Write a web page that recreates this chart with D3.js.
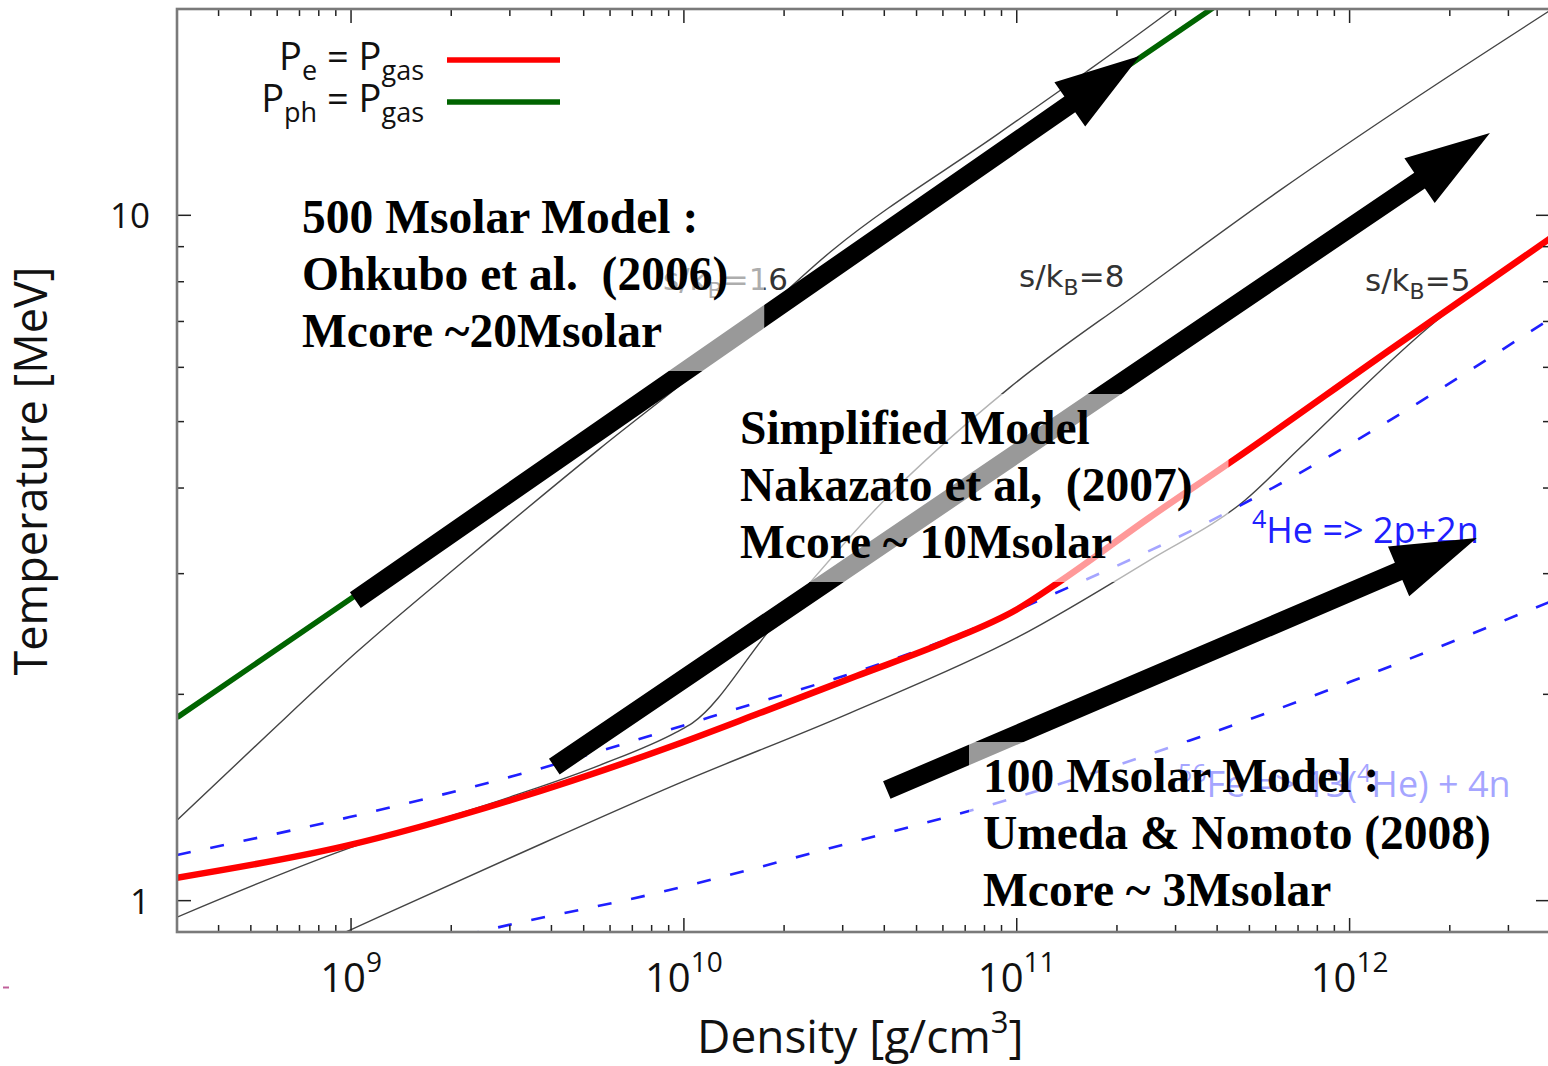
<!DOCTYPE html>
<html>
<head>
<meta charset="utf-8">
<script src="https://cdn.jsdelivr.net/npm/d3@7"></script>
<style>
  html, body { margin: 0; padding: 0; background: #ffffff; }
  svg { display: block; }
</style>
</head>
<body>
<svg id="chart" width="1548" height="1066"></svg>
<script>
// ---- axis domains and tick labels ----
const rhoDomain = [3e8, 4e12];          // g/cm^3
const tempDomain = [0.9, 20];           // MeV
const rhoMajorTicks = [1e9, 1e10, 1e11, 1e12];
const rhoTickExponents = ["9", "10", "11", "12"];
const tempMajorTicks = [1, 10];
const tempTickLabels = ["1", "10"];
const tempMinorTicks = [2, 3, 4, 5, 6, 7, 8, 9, 20];

// ---- P_ph = P_gas (radiation pressure equals gas pressure) ----
const photonRho = [3e8, 1e9, 3e9, 1e10, 3e10, 1e11, 4.2e11];
const photonT   = [1.85, 2.76, 3.98, 5.94, 8.57, 12.8, 20.6];

// ---- P_e = P_gas (electron pressure equals gas pressure) ----
const electronRho = [3e8, 9.5e8, 3.0e9, 9.5e9, 1.69e10, 3.3e10, 6.1e10, 1.0e11, 1.33e11, 2.5e11, 4.5e11, 1.32e12, 4e12];
const electronT   = [1.08, 1.20, 1.40, 1.69, 1.878, 2.127, 2.384, 2.66, 2.91, 3.62, 4.40, 6.36, 9.25];

// ---- nuclear dissociation lines ----
const heliumRho = [3e8, 9.9e8, 3.15e9, 1.2e10, 6.1e10, 1.42e11, 3.36e11, 7.1e11, 4e12];
const heliumT   = [1.166, 1.324, 1.525, 1.853, 2.40, 2.86, 3.47, 4.21, 7.06];
const ironRho = [2.2e9, 2.56e9, 8.3e9, 3.15e10, 1.0e11, 3.55e11, 1.0e12, 4e12];
const ironT   = [0.89, 0.906, 1.026, 1.214, 1.416, 1.733, 2.084, 2.73];

// ---- isentropes ----
const s16Rho = [3e8, 5.6e8, 1.04e9, 2.2e9, 5.6e9, 1.2e10, 2.8e10, 8.9e10, 1.62e11, 2.9e11, 3.4e11];
const s16T   = [1.31, 1.745, 2.305, 3.14, 4.57, 6.14, 8.90, 13.2, 16.2, 19.9, 21.1];
const s8Rho = [3e8, 9.5e8, 3.0e9, 5.6e9, 9.5e9, 1.06e10, 1.84e10, 4.0e10, 9.5e10, 2.34e11, 6.2e11, 1.63e12, 4e12];
const s8T   = [0.946, 1.185, 1.416, 1.577, 1.762, 1.816, 2.507, 3.84, 5.60, 7.73, 10.89, 14.98, 19.9];
const s5Rho = [8.0e8, 9.93e8, 3.0e9, 9.53e9, 3.15e10, 1.01e11, 2.51e11, 4.85e11, 7.1e11, 1.83e12, 2.14e12, 4e12];
const s5T   = [0.864, 0.906, 1.154, 1.479, 1.878, 2.425, 3.14, 3.84, 4.58, 7.03, 7.47, 9.3];

// ---- core evolution tracks of the three models: [rho, T] of tail and tip ----
const trackTails = [[1.03e9, 2.745], [4.08e9, 1.569], [4.07e10, 1.45]];
const trackTips  = [[2.34e11, 17.08], [2.64e12, 13.19], [2.41e12, 3.382]];

// ---- model annotations ----
const modelNotes = [
  ["500 Msolar Model :", "Ohkubo et al.  (2006)", "Mcore ~20Msolar"],
  ["Simplified Model", "Nakazato et al,  (2007)", "Mcore ~ 10Msolar"],
  ["100 Msolar Model :", "Umeda & Nomoto (2008)", "Mcore ~ 3Msolar"]
];

// ======================================================================
const svg = d3.select("#chart");
const plot = { x0: 177, x1: 1550, y0: 9, y1: 932 };

const x = d3.scaleLog().domain(rhoDomain).range([plot.x0, plot.x1]);
const y = d3.scaleLog().domain(tempDomain).range([plot.y1, plot.y0]);

const zip = (a, b) => a.map((v, i) => [v, b[i]]);
const line = d3.line().x(d => x(d[0])).y(d => y(d[1])).curve(d3.curveMonotoneX);

svg.append("defs").append("clipPath").attr("id", "plotClip")
  .append("rect")
  .attr("x", plot.x0).attr("y", plot.y0)
  .attr("width", plot.x1 - plot.x0).attr("height", plot.y1 - plot.y0);

const sans = "'Open Sans', 'Noto Sans', sans-serif";
const narrow = "'Liberation Sans Narrow', 'Open Sans', sans-serif";
const serif = "'Liberation Serif', 'Times New Roman', serif";

// ---- curves ----
const curves = svg.append("g").attr("clip-path", "url(#plotClip)");

[[s16Rho, s16T], [s8Rho, s8T], [s5Rho, s5T]].forEach(([r, t]) => {
  curves.append("path")
    .attr("d", line(zip(r, t)))
    .attr("fill", "none")
    .attr("stroke", "#444444")
    .attr("stroke-width", 1.4);
});

[[heliumRho, heliumT], [ironRho, ironT]].forEach(([r, t]) => {
  curves.append("path")
    .attr("d", line(zip(r, t)))
    .attr("fill", "none")
    .attr("stroke", "#1f1fff")
    .attr("stroke-width", 2.6)
    .attr("stroke-dasharray", "14,20");
});

curves.append("path")
  .attr("d", line(zip(electronRho, electronT)))
  .attr("fill", "none").attr("stroke", "#ff0000").attr("stroke-width", 6.5);

curves.append("path")
  .attr("d", line(zip(photonRho, photonT)))
  .attr("fill", "none").attr("stroke", "#006400").attr("stroke-width", 5.5);

// ---- curve labels ----
const lab = svg.append("g");

function entropyLabel(px, py, value) {
  const t = lab.append("text")
    .attr("x", px).attr("y", py)
    .attr("font-family", "'DejaVu Sans', sans-serif")
    .attr("font-size", 31)
    .attr("fill", "#333333");
  t.append("tspan").text("s/k");
  t.append("tspan").attr("font-size", 22).attr("dy", 8).text("B");
  t.append("tspan").attr("dy", -8).text("=" + value);
}
entropyLabel(663, 290, "16");
entropyLabel(1019, 287, "8");
entropyLabel(1365, 291, "5");

const heLabel = lab.append("text")
  .attr("x", 1252).attr("y", 543)
  .attr("font-family", sans).attr("font-size", 36).attr("fill", "#2020ff");
heLabel.append("tspan").attr("font-size", 25).attr("dy", -15).text("4");
heLabel.append("tspan").attr("dy", 15).text("He => 2p+2n");

const feLabel = lab.append("text")
  .attr("x", 1178).attr("y", 797)
  .attr("font-family", sans).attr("font-size", 36).attr("fill", "#2020ff");
feLabel.append("tspan").attr("font-size", 25).attr("dy", -15).text("56");
feLabel.append("tspan").attr("dy", 15).text("Fe => 13(");
feLabel.append("tspan").attr("font-size", 25).attr("dy", -15).text("4");
feLabel.append("tspan").attr("dy", 15).text("He) + 4n");

// ---- evolution arrows ----
function arrowPath(tail, tip) {
  const ax = x(tail[0]), ay = y(tail[1]);
  const bx = x(tip[0]), by = y(tip[1]);
  const dx = bx - ax, dy = by - ay, len = Math.hypot(dx, dy);
  const ux = dx / len, uy = dy / len, nx = -uy, ny = ux;
  const sw = 9.5, hl = 85, hw = 27;
  const cx = bx - ux * hl, cy = by - uy * hl;
  const pts = [
    [ax + nx * sw, ay + ny * sw], [cx + nx * sw, cy + ny * sw], [cx + nx * hw, cy + ny * hw],
    [bx, by],
    [cx - nx * hw, cy - ny * hw], [cx - nx * sw, cy - ny * sw], [ax - nx * sw, ay - ny * sw]
  ];
  return "M" + pts.map(p => p.join(",")).join("L") + "Z";
}
svg.append("g").selectAll("path")
  .data(trackTails.map((t, i) => [t, trackTips[i]]))
  .join("path")
  .attr("d", d => arrowPath(d[0], d[1]))
  .attr("fill", "#000000");

// ---- model annotations with translucent text boxes ----
const boxLayer = svg.append("g");
const noteLayer = svg.append("g");
const noteAnchors = [[302, 233], [740, 444], [983, 792]];
const lineGap = 57;

modelNotes.forEach((lines, i) => {
  const g = noteLayer.append("g");
  lines.forEach((s, j) => {
    g.append("text")
      .attr("x", noteAnchors[i][0]).attr("y", noteAnchors[i][1] + j * lineGap)
      .attr("font-family", serif).attr("font-weight", "bold")
      .attr("font-size", 47.5).attr("fill", "#000")
      .style("white-space", "pre")
      .text(s);
  });
  const bb = g.node().getBBox();
  boxLayer.append("rect")
    .attr("x", bb.x - 14).attr("y", bb.y - 8)
    .attr("width", bb.width + 50).attr("height", bb.height + 22)
    .attr("fill", "#ffffff").attr("fill-opacity", 0.6);
});

// ---- frame and ticks ----
const axes = svg.append("g");
const minorRho = [];
for (let e = 8; e <= 12; e++) {
  for (let m = 2; m <= 9; m++) {
    const v = m * Math.pow(10, e);
    if (v > rhoDomain[0] && v < rhoDomain[1]) minorRho.push(v);
  }
}
const tickStroke = "#222222";
function vTicks(vals, len) {
  vals.forEach(v => {
    const px = x(v);
    axes.append("line").attr("x1", px).attr("x2", px)
      .attr("y1", plot.y1).attr("y2", plot.y1 - len)
      .attr("stroke", tickStroke).attr("stroke-width", 1.5);
    axes.append("line").attr("x1", px).attr("x2", px)
      .attr("y1", plot.y0).attr("y2", plot.y0 + len)
      .attr("stroke", tickStroke).attr("stroke-width", 1.5);
  });
}
function hTicks(vals, len) {
  vals.forEach(v => {
    const py = y(v);
    axes.append("line").attr("x1", plot.x0).attr("x2", plot.x0 + len)
      .attr("y1", py).attr("y2", py)
      .attr("stroke", tickStroke).attr("stroke-width", 1.5);
    axes.append("line").attr("x1", plot.x1).attr("x2", plot.x1 - len)
      .attr("y1", py).attr("y2", py)
      .attr("stroke", tickStroke).attr("stroke-width", 1.5);
  });
}
vTicks(rhoMajorTicks, 14);
vTicks(minorRho, 7);
hTicks(tempMajorTicks, 14);
hTicks(tempMinorTicks, 7);

axes.append("rect")
  .attr("x", plot.x0).attr("y", plot.y0)
  .attr("width", plot.x1 - plot.x0).attr("height", plot.y1 - plot.y0)
  .attr("fill", "none").attr("stroke", "#7a7a7a").attr("stroke-width", 2.6);

// ---- tick labels ----
rhoMajorTicks.forEach((v, i) => {
  const t = axes.append("text")
    .attr("x", x(v)).attr("y", 992)
    .attr("text-anchor", "middle")
    .attr("font-family", narrow).attr("font-size", 40).attr("fill", "#111");
  t.append("tspan").text("10");
  t.append("tspan").attr("font-size", 28).attr("dy", -20).text(rhoTickExponents[i]);
});
tempMajorTicks.forEach((v, i) => {
  axes.append("text")
    .attr("x", 150).attr("y", y(v) + 13)
    .attr("text-anchor", "end")
    .attr("font-family", sans).attr("font-size", 35).attr("fill", "#111")
    .text(tempTickLabels[i]);
});

// ---- axis titles ----
const xTitle = axes.append("text")
  .attr("x", 697).attr("y", 1053)
  .attr("font-family", sans).attr("font-size", 46).attr("fill", "#111");
xTitle.append("tspan").text("Density [g/cm");
xTitle.append("tspan").attr("font-size", 31).attr("dy", -20).text("3");
xTitle.append("tspan").attr("dy", 20).text("]");

axes.append("text")
  .attr("transform", "translate(47,471) rotate(-90)")
  .attr("text-anchor", "middle")
  .attr("font-family", sans).attr("font-size", 45).attr("fill", "#111")
  .text("Temperature [MeV]");

// ---- legend ----
const legend = svg.append("g");
const legendRows = [
  { main: "P", sub: "e", color: "#ff0000", base: 70, stroke: 5.5 },
  { main: "P", sub: "ph", color: "#006400", base: 112, stroke: 5.5 }
];
legendRows.forEach(r => {
  const t = legend.append("text")
    .attr("x", 424).attr("y", r.base)
    .attr("text-anchor", "end")
    .attr("font-family", sans).attr("font-size", 38).attr("fill", "#111");
  t.append("tspan").text(r.main);
  t.append("tspan").attr("font-size", 27).attr("dy", 10).text(r.sub);
  t.append("tspan").attr("dy", -10).text(" = P");
  t.append("tspan").attr("font-size", 27).attr("dy", 10).text("gas");
  legend.append("line")
    .attr("x1", 447).attr("x2", 560)
    .attr("y1", r.base - 10).attr("y2", r.base - 10)
    .attr("stroke", r.color).attr("stroke-width", r.stroke);
});

// small stray mark at the lower left
svg.append("line").attr("x1", 3).attr("x2", 9).attr("y1", 987.5).attr("y2", 987.5)
  .attr("stroke", "#c0609a").attr("stroke-width", 2);
</script>
</body>
</html>
